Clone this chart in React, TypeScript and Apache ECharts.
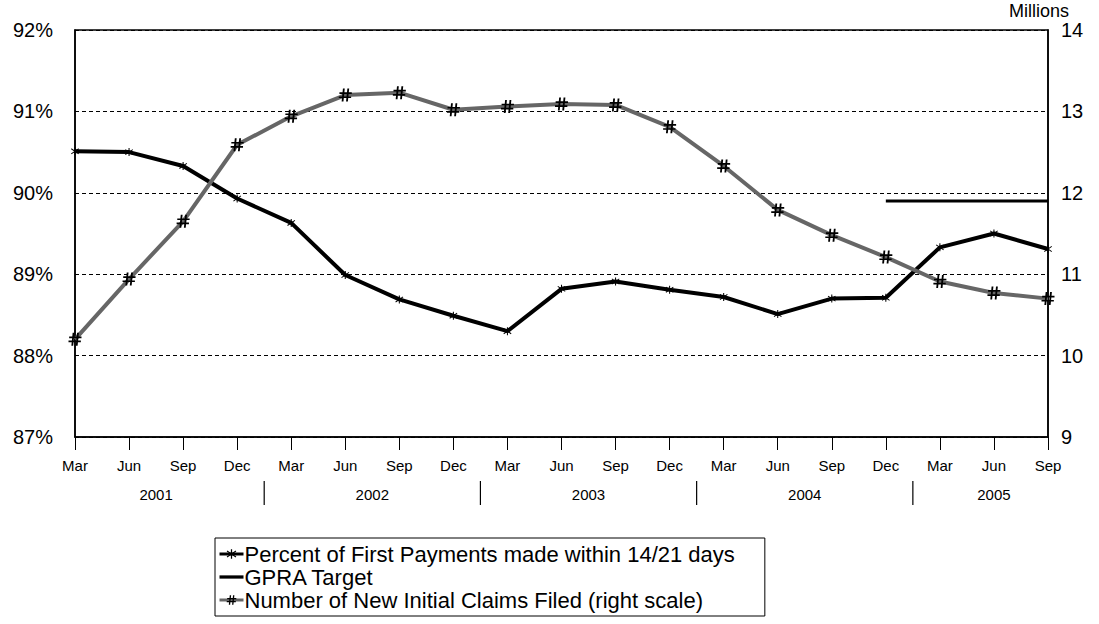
import React, { useEffect, useRef } from "react";
import * as echarts from "echarts";

const months = ["Mar","Jun","Sep","Dec","Mar","Jun","Sep","Dec","Mar","Jun","Sep","Dec","Mar","Jun","Sep","Dec","Mar","Jun","Sep"];
const years = ["2001", "2002", "2003", "2004", "2005"];
const yearStart = [0, 4, 8, 12, 16];
const yearEnd = [3, 7, 11, 15, 18];

const percentFirstPayments = [90.51, 90.5, 90.33, 89.93, 89.63, 88.99, 88.69, 88.49, 88.3, 88.82, 88.91, 88.81, 88.72, 88.51, 88.7, 88.71, 89.33, 89.5, 89.31];
const gpraTarget = [null, null, null, null, null, null, null, null, null, null, null, null, null, null, null, 89.9, 89.9, 89.9, 89.9];
const newInitialClaims = [10.2, 10.94, 11.65, 12.59, 12.94, 13.2, 13.23, 13.02, 13.06, 13.09, 13.08, 12.81, 12.33, 11.79, 11.48, 11.21, 10.91, 10.77, 10.7];

const leftTicks = { min: 87, max: 92, interval: 1 };
const rightTicks = { min: 9, max: 14, interval: 1 };

const FONT = "Arial, 'Liberation Sans', Helvetica, sans-serif";
const starPath = "path://M4.4,0h1.2v10h-1.2z M0.4,2.3 L1,1.3 L9.6,7.7 L9,8.7z M0.4,7.7 L9,1.3 L9.6,2.3 L1,8.7z";
const hashPath = "path://M3.2,0h1.4l-1,10h-1.4z M6.6,0h1.4l-1,10h-1.4z M0.5,2.8h9.5v1.3h-9.5z M0,6h9.5v1.3h-9.5z";
const targetIcon = "path://M0,0h22v3h-22z";

const NAME_PCT = "Percent of First Payments made within 14/21 days";
const NAME_GPRA = "GPRA Target";
const NAME_CLAIMS = "Number of New Initial Claims Filed (right scale)";

export default function App() {
  const ref = useRef<HTMLDivElement>(null);
  useEffect(() => {
    if (!ref.current) return;
    const chart = echarts.init(ref.current, null, { renderer: "svg" });
    chart.setOption({
      animation: false,
      backgroundColor: "#fff",
      textStyle: { fontFamily: FONT, color: "#000" },
      grid: { left: 75, right: 51, top: 30, bottom: 187, show: true, borderColor: "#000", borderWidth: 1.5, backgroundColor: "transparent" },
      xAxis: {
        type: "category",
        data: months,
        boundaryGap: false,
        axisLine: { lineStyle: { color: "#000", width: 1.5 } },
        axisTick: { show: true, length: 13, lineStyle: { color: "#000", width: 1 } },
        axisLabel: { color: "#000", fontSize: 15, fontFamily: FONT, margin: 21, interval: 0 },
        splitLine: { show: false },
      },
      yAxis: [
        {
          type: "value",
          min: leftTicks.min,
          max: leftTicks.max,
          interval: leftTicks.interval,
          axisLine: { show: true, lineStyle: { color: "#000", width: 1.5 } },
          axisTick: { show: false },
          axisLabel: { formatter: "{value}%", color: "#000", fontSize: 20, fontFamily: FONT, margin: 22 },
          splitLine: { show: true, lineStyle: { color: "#000", type: [4, 3], width: 1 } },
        },
        {
          type: "value",
          min: rightTicks.min,
          max: rightTicks.max,
          interval: rightTicks.interval,
          position: "right",
          name: "Millions",
          nameLocation: "end",
          nameGap: 6,
          nameTextStyle: { color: "#000", fontSize: 18, fontFamily: FONT, align: "center", padding: [0, 18, 0, 0] },
          axisLine: { show: true, lineStyle: { color: "#000", width: 1.5 } },
          axisTick: { show: false },
          axisLabel: { color: "#000", fontSize: 20, fontFamily: FONT, margin: 13 },
          splitLine: { show: false },
        },
      ],
      legend: {
        orient: "vertical",
        left: 215,
        top: 538,
        itemWidth: 24,
        itemHeight: 12,
        itemGap: 1,
        padding: [5, 30, 5, 3],
        borderColor: "#000",
        borderWidth: 1,
        borderRadius: 0,
        textStyle: { color: "#000", fontSize: 22, fontFamily: FONT, lineHeight: 22, padding: [0, 0, 0, -4] },
        data: [
          { name: NAME_PCT, lineStyle: { width: 3 } },
          { name: NAME_GPRA, icon: targetIcon },
          { name: NAME_CLAIMS, lineStyle: { width: 3 } },
        ],
      },
      series: [
        {
          name: NAME_PCT,
          type: "line",
          yAxisIndex: 0,
          data: percentFirstPayments,
          symbol: starPath,
          symbolSize: 8,
          lineStyle: { color: "#000", width: 4 },
          itemStyle: { color: "#000" },
          z: 3,
        },
        {
          name: NAME_GPRA,
          type: "line",
          yAxisIndex: 0,
          data: gpraTarget,
          symbol: "none",
          connectNulls: false,
          lineStyle: { color: "#000", width: 3 },
          itemStyle: { color: "#000" },
          z: 2,
        },
        {
          name: NAME_CLAIMS,
          type: "line",
          yAxisIndex: 1,
          data: newInitialClaims,
          symbol: hashPath,
          symbolSize: 13,
          lineStyle: { color: "#666", width: 4 },
          itemStyle: { color: "#000" },
          z: 4,
        },
      ],
    });

    const px = (i: number) => chart.convertToPixel({ xAxisIndex: 0 }, i) as number;
    const graphics: any[] = [];
    years.forEach((y, k) => {
      const cx = (px(yearStart[k]) + px(yearEnd[k])) / 2;
      graphics.push({
        type: "text",
        x: cx,
        y: 494,
        style: { text: y, fill: "#000", font: `15px ${FONT}`, textAlign: "center", textVerticalAlign: "middle" },
      });
      if (k < years.length - 1) {
        const sx = (px(yearEnd[k]) + px(yearEnd[k] + 1)) / 2;
        graphics.push({
          type: "line",
          shape: { x1: sx, y1: 481, x2: sx, y2: 505 },
          style: { stroke: "#000", lineWidth: 1.2 },
        });
      }
    });
    chart.setOption({ graphic: graphics });

    return () => chart.dispose();
  }, []);
  return <div ref={ref} style={{ width: 1099, height: 624, position: "absolute", left: 0, top: 0 }} />;
}
